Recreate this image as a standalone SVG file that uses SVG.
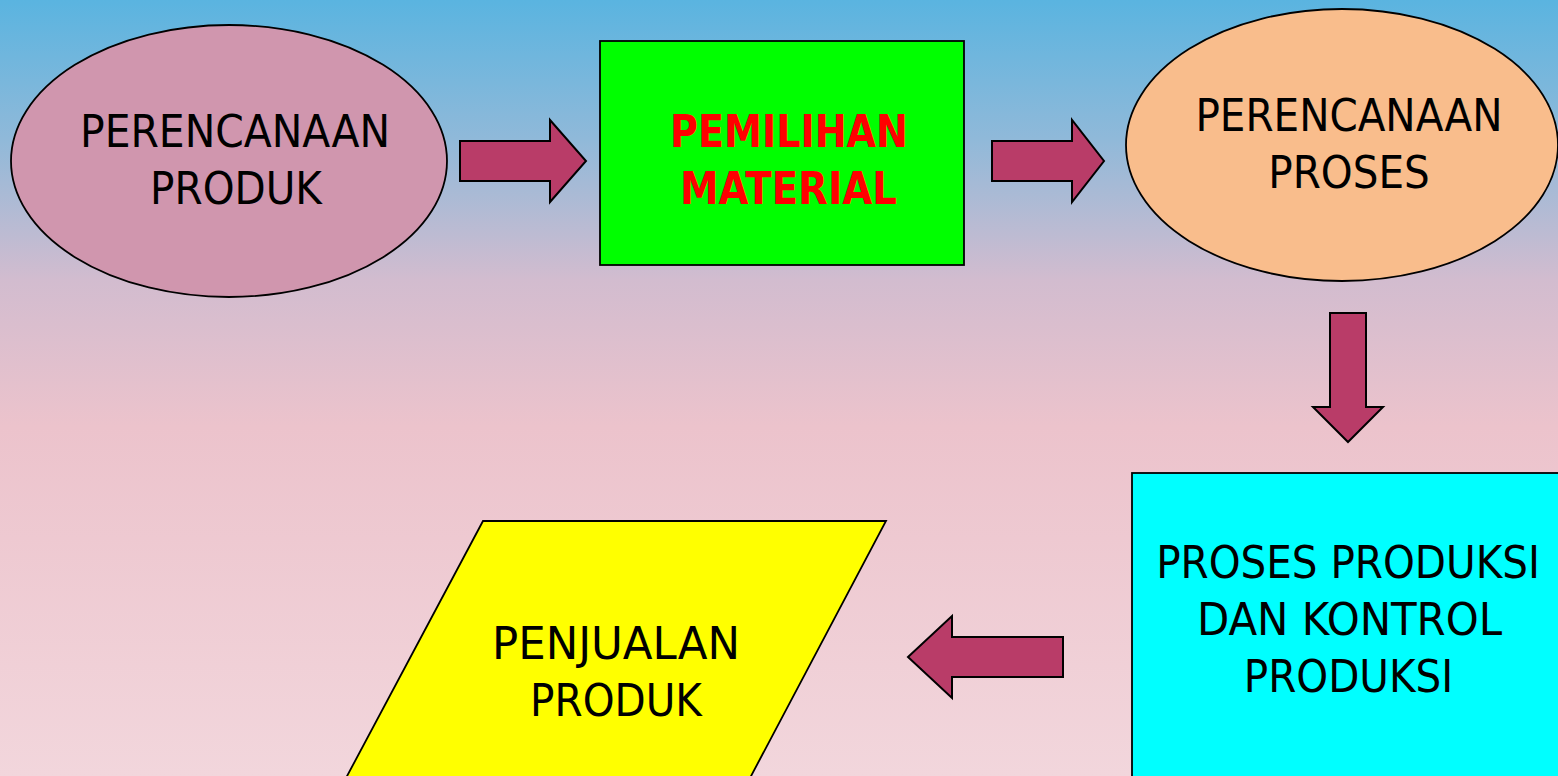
<svg xmlns="http://www.w3.org/2000/svg" width="1558" height="776" viewBox="0 0 1558 776">
<defs>
<linearGradient id="bg" x1="0" y1="0" x2="0" y2="1">
<stop offset="0" stop-color="#5ab4e0"/>
<stop offset="0.18" stop-color="#90b9d9"/>
<stop offset="0.36" stop-color="#d2bccf"/>
<stop offset="0.55" stop-color="#ecc3cc"/>
<stop offset="1" stop-color="#f2d6dc"/>
</linearGradient>
</defs>
<style>
.t{font-family:"DejaVu Sans Condensed","DejaVu Sans",sans-serif;font-size:45px;fill:#000;text-anchor:middle}
.r{font-weight:bold;fill:#ff0000}
.arr{fill:#b93c68;stroke:#000;stroke-width:2;stroke-linejoin:miter}
.nd{stroke:#000;stroke-width:1.8}
</style>
<rect width="1558" height="776" fill="url(#bg)"/>
<g id="connectors">
<polygon class="arr" points="460,141 550,141 550,120 586,161 550,202 550,181 460,181"/>
<polygon class="arr" points="992,141 1072,141 1072,120 1104,161 1072,202 1072,181 992,181"/>
<polygon class="arr" points="1330,313 1366,313 1366,407 1383,407 1348,442 1313,407 1330,407"/>
<polygon class="arr" points="1063,637 952,637 952,616 908,657 952,698 952,677 1063,677"/>
</g>
<g id="perencanaan-produk">
<ellipse class="nd" cx="229" cy="161" rx="218" ry="136" fill="#d096ae"/>
<text class="t" x="235" y="147" textLength="310" lengthAdjust="spacingAndGlyphs">PERENCANAAN</text>
<text class="t" x="236" y="204">PRODUK</text>
</g>
<g id="pemilihan-material">
<rect class="nd" x="600" y="41" width="364" height="224" fill="#00ff00"/>
<text class="t r" x="789" y="147" textLength="238" lengthAdjust="spacingAndGlyphs">PEMILIHAN</text>
<text class="t r" x="788.5" y="204" textLength="217" lengthAdjust="spacingAndGlyphs">MATERIAL</text>
</g>
<g id="perencanaan-proses">
<ellipse class="nd" cx="1342" cy="145" rx="216" ry="136" fill="#f9bd8c"/>
<text class="t" x="1349" y="131">PERENCANAAN</text>
<text class="t" x="1349" y="188">PROSES</text>
</g>
<g id="proses-produksi">
<rect class="nd" x="1132" y="473" width="440" height="320" fill="#00ffff"/>
<text class="t" x="1348" y="578">PROSES PRODUKSI</text>
<text class="t" x="1349.5" y="635" textLength="305" lengthAdjust="spacingAndGlyphs">DAN KONTROL</text>
<text class="t" x="1348.5" y="692">PRODUKSI</text>
</g>
<g id="penjualan-produk">
<polygon class="nd" points="483,521 886,521 750,778 346,778" fill="#ffff00"/>
<text class="t" x="616" y="659" textLength="248" lengthAdjust="spacingAndGlyphs">PENJUALAN</text>
<text class="t" x="616" y="716">PRODUK</text>
</g>
</svg>
